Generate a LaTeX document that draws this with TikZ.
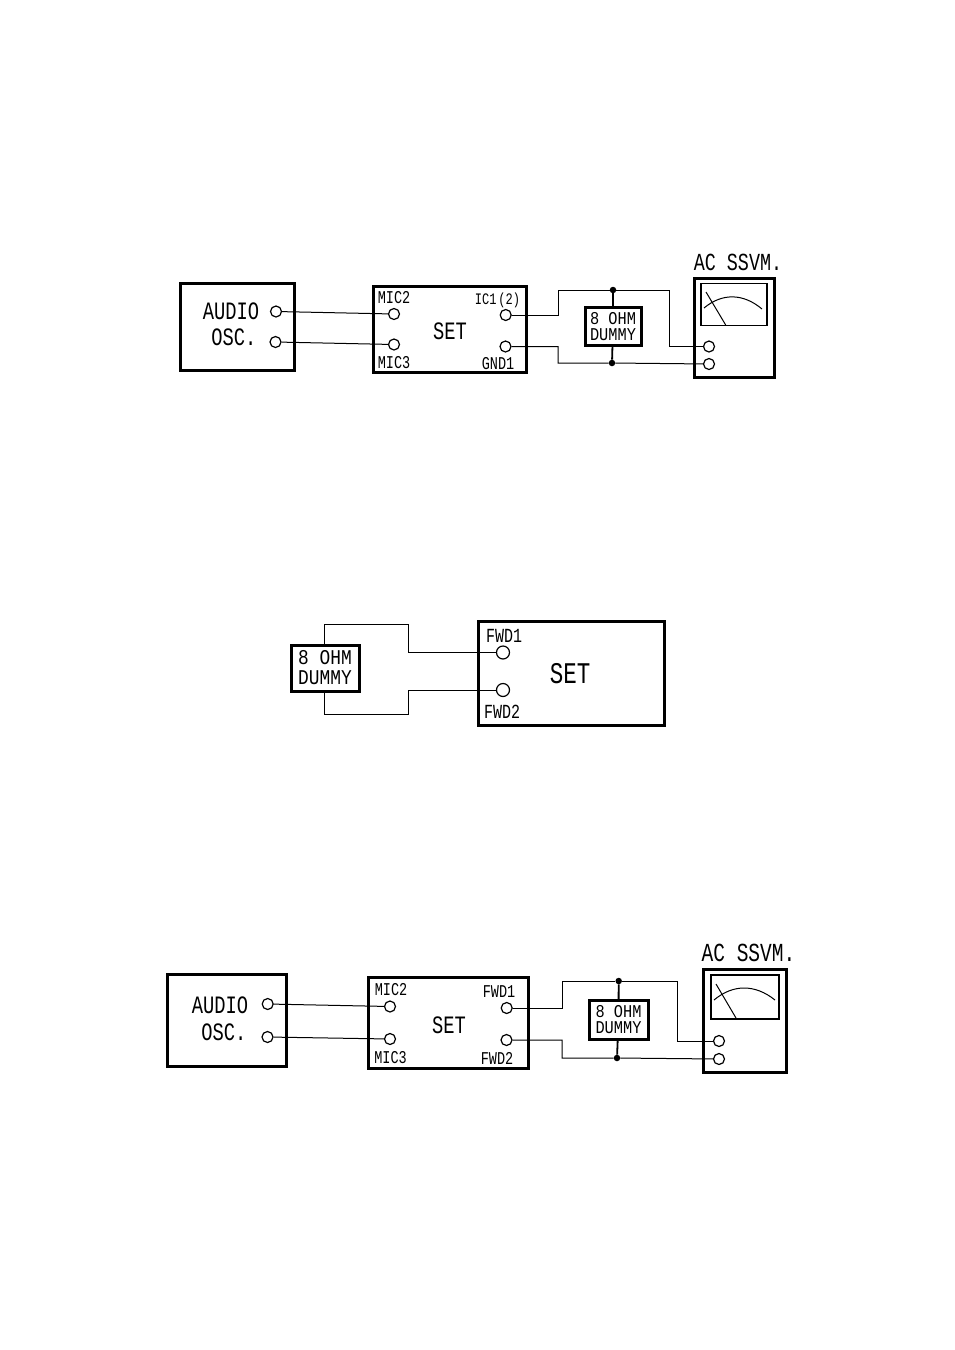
\documentclass[tikz,border=0pt]{standalone}
\usepackage{fontspec}
\setmainfont[FakeStretch=0.75]{Liberation Mono}
\newfontfamily\dummyfont[FakeStretch=0.85]{Liberation Mono}
\tikzset{
  heavybox/.style={draw,line width=3pt,inner sep=0pt,outer sep=0pt},
  thinbox/.style={draw,line width=1.3pt,inner sep=0pt,outer sep=0pt},
  term/.style={draw,circle,line width=1.2pt,minimum size=11pt,inner sep=0pt},
  joint/.style={fill,circle,minimum size=6.5pt,inner sep=0pt},
  wire/.style={line width=1pt},
  stub/.style={line width=1.8pt},
  biglabel/.style={font=\fontsize{25}{25}\selectfont,inner sep=0pt},
  pinlabel/.style={font=\fontsize{18}{18}\selectfont,inner sep=0pt},
  dummylabel/.style={heavybox,align=center,font=\dummyfont\fontsize{18}{16.5}\selectfont},
}
\begin{document}
\begin{tikzpicture}[x=1pt,y=-1pt]
\useasboundingbox (0,0) rectangle (954,1350);
% first set-up
\node[heavybox,minimum width=114pt,minimum height=87pt] (audio1) at (237,326.5) {};
\node[biglabel] (audiotext1) at (231,311.5) {AUDIO};
\node[biglabel] (osctext1) at (234,337) {OSC.};
\node[term] (out1a) at (276,311.5) {};
\node[term] (out1b) at (275.5,342) {};
\node[heavybox,minimum width=153pt,minimum height=86pt] (set1) at (449.5,329) {};
\node[biglabel] (settext1) at (450,331) {SET};
\node[term] (mic1a) at (394,314) {};
\node[term] (mic1b) at (394,344.5) {};
\node[term] (ic1a) at (505.7,315) {};
\node[term] (ic1b) at (505.5,346.5) {};
\node[pinlabel] (mictext1a) at (394,298) {MIC2};
\node[pinlabel] (mictext1b) at (394,362.5) {MIC3};
\node[pinlabel,font=\fontsize{16}{16}\selectfont] (ictext1a) at (497.5,300) {\spaceskip=2pt IC1 (2)};
\node[pinlabel] (ictext1b) at (498,364) {GND1};
\node[dummylabel,minimum width=56pt,minimum height=37.5pt] (dummy1) at (613,326.5) {8 OHM\\DUMMY};
\node[joint] (top1) at (613,290) {};
\node[joint] (bot1) at (612,363) {};
\coordinate (bendtl1) at (558.7,290);
\coordinate (bendtr1) at (669.3,290);
\coordinate (bendbl1) at (558,363);
\node[heavybox,minimum width=80pt,minimum height=99pt] (ssvm1) at (734,327.5) {};
\node[thinbox,minimum width=66pt,minimum height=42.5pt] (meter1) at (734,304.5) {};
\node[term] (ssvm1a) at (709,346.5) {};
\node[term] (ssvm1b) at (709,364) {};
\node[biglabel,font=\fontsize{24.5}{24.5}\selectfont] (ssvmtext1) at (738,262) {AC SSVM.};
\coordinate (needle1a) at (706,292);
\coordinate (needle1b) at (725.7,325);
\coordinate (scale1a) at (704,308);
\coordinate (scale1b) at (762,309);
\draw[wire] (out1a)--(mic1a);
\draw[wire] (out1b)--(mic1b);
\draw[wire] (ic1a) -| (bendtl1) -- (top1) -- (bendtr1) |- (ssvm1a);
\draw[wire] (ic1b) -| (bendbl1) -- (bot1) -- (ssvm1b);
\draw[stub] (top1)--(dummy1);
\draw[stub] (bot1)--(dummy1);
\draw[wire] (needle1a)--(needle1b);
\draw[wire] (scale1a) .. controls (722,293) and (743,293) .. (scale1b);
% second set-up
\node[heavybox,minimum width=186pt,minimum height=104pt] (set2) at (571,673) {};
\node[biglabel,font=\fontsize{30}{30}\selectfont] (settext2) at (570,674) {SET};
\node[term,minimum size=13pt] (fwd2a) at (503,652.5) {};
\node[term,minimum size=13pt] (fwd2b) at (503,690) {};
\node[pinlabel,font=\fontsize{20}{20}\selectfont] (fwdtext2a) at (504,636) {FWD1};
\node[pinlabel,font=\fontsize{20}{20}\selectfont] (fwdtext2b) at (502,712) {FWD2};
\node[dummylabel,minimum width=68pt,minimum height=46pt,font=\dummyfont\fontsize{21}{20}\selectfont] (dummy2) at (325,668) {8 OHM\\DUMMY};
\coordinate (bendtl2) at (324,624);
\coordinate (bendtr2) at (408,624);
\coordinate (bendbl2) at (324,714);
\coordinate (bendbr2) at (408,714);
\draw[wire] (dummy2.north -| bendtl2) -- (bendtl2) -- (bendtr2) |- (fwd2a);
\draw[wire] (dummy2.south -| bendbl2) -- (bendbl2) -- (bendbr2) |- (fwd2b);
% third set-up
\node[heavybox,minimum width=119pt,minimum height=92pt] (audio3) at (226.5,1020) {};
\node[biglabel] (audiotext3) at (220,1005) {AUDIO};
\node[biglabel] (osctext3) at (224,1032) {OSC.};
\node[term] (out3a) at (267.7,1004) {};
\node[term] (out3b) at (267.5,1037) {};
\node[heavybox,minimum width=160pt,minimum height=91pt] (set3) at (448,1022.5) {};
\node[biglabel] (settext3) at (449,1025) {SET};
\node[term] (mic3a) at (390,1006.5) {};
\node[term] (mic3b) at (390,1039) {};
\node[term] (fwd3a) at (506.7,1008) {};
\node[term] (fwd3b) at (506.5,1040) {};
\node[pinlabel] (mictext3a) at (391,990) {MIC2};
\node[pinlabel] (mictext3b) at (390.5,1058) {MIC3};
\node[pinlabel] (fwdtext3a) at (499,992) {FWD1};
\node[pinlabel] (fwdtext3b) at (497,1058) {FWD2};
\node[dummylabel,minimum width=59pt,minimum height=39pt] (dummy3) at (618.5,1019.5) {8 OHM\\DUMMY};
\node[joint] (top3) at (618.7,981) {};
\node[joint] (bot3) at (617,1058) {};
\coordinate (bendtl3) at (562,981);
\coordinate (bendtr3) at (677,981);
\coordinate (bendbl3) at (562,1058);
\node[heavybox,minimum width=83pt,minimum height=103pt] (ssvm3) at (744.5,1020.5) {};
\node[thinbox,minimum width=68pt,minimum height=44pt] (meter3) at (745,997) {};
\node[term] (ssvm3a) at (719,1041) {};
\node[term] (ssvm3b) at (719,1059) {};
\node[biglabel,font=\fontsize{26}{26}\selectfont] (ssvmtext3) at (748.5,953) {AC SSVM.};
\coordinate (needle3a) at (716,984);
\coordinate (needle3b) at (736,1018);
\coordinate (scale3a) at (714,1000);
\coordinate (scale3b) at (775,1000);
\draw[wire] (out3a)--(mic3a);
\draw[wire] (out3b)--(mic3b);
\draw[wire] (fwd3a) -| (bendtl3) -- (top3) -- (bendtr3) |- (ssvm3a);
\draw[wire] (fwd3b) -| (bendbl3) -- (bot3) -- (ssvm3b);
\draw[stub] (top3)--(dummy3);
\draw[stub] (bot3)--(dummy3);
\draw[wire] (needle3a)--(needle3b);
\draw[wire] (scale3a) .. controls (733,984) and (755,984) .. (scale3b);
\end{tikzpicture}
\end{document}
